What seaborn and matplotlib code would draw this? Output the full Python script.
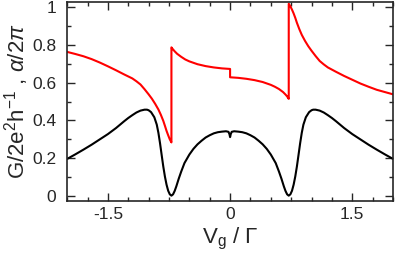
import matplotlib
matplotlib.use('Agg')
import matplotlib.pyplot as plt
from matplotlib.ticker import MultipleLocator, FuncFormatter
import seaborn as sns

# gate voltage samples and conductance G (black)
vg_cond = [-2.0, -1.9, -1.8, -1.7, -1.6, -1.5, -1.4, -1.3, -1.25, -1.2, -1.15,
           -1.1, -1.05, -1.02, -1.0, -0.97, -0.93, -0.9, -0.88, -0.86, -0.84,
           -0.82, -0.8, -0.78, -0.76, -0.74, -0.72, -0.7, -0.68, -0.66, -0.63,
           -0.6, -0.56, -0.5, -0.45, -0.4, -0.35, -0.3, -0.25, -0.2, -0.15,
           -0.1, -0.05, -0.02, -0.008,
           0.0,
           0.008, 0.02, 0.05, 0.1, 0.15, 0.2, 0.25, 0.3, 0.35, 0.4, 0.45, 0.5,
           0.56, 0.6, 0.63, 0.66, 0.68, 0.7, 0.72, 0.74, 0.76, 0.78, 0.8, 0.82,
           0.84, 0.86, 0.88, 0.9, 0.93, 0.97, 1.0, 1.02, 1.05, 1.1, 1.15, 1.2,
           1.25, 1.3, 1.4, 1.5, 1.6, 1.7, 1.8, 1.9, 2.0]
conductance = [0.197, 0.221, 0.246, 0.272, 0.300, 0.328, 0.360, 0.396, 0.413,
               0.428, 0.442, 0.452, 0.457, 0.457, 0.454, 0.444, 0.417, 0.378,
               0.335, 0.280, 0.218, 0.157, 0.104, 0.061, 0.029, 0.010, 0.003,
               0.010, 0.028, 0.052, 0.093, 0.130, 0.175, 0.220, 0.250, 0.274,
               0.293, 0.310, 0.322, 0.332, 0.338, 0.341, 0.343, 0.340, 0.328,
               0.312,
               0.328, 0.340, 0.343, 0.341, 0.338, 0.332, 0.322, 0.310, 0.293,
               0.274, 0.250, 0.220, 0.175, 0.130, 0.093, 0.052, 0.028, 0.010,
               0.003, 0.010, 0.029, 0.061, 0.104, 0.157, 0.218, 0.280, 0.335,
               0.378, 0.417, 0.444, 0.454, 0.457, 0.457, 0.452, 0.442, 0.428,
               0.413, 0.396, 0.360, 0.328, 0.300, 0.272, 0.246, 0.221, 0.197]

# transmission phase alpha/2pi (red), repeated x at the jumps
vg_phase = [-2.0, -1.9, -1.8, -1.7, -1.6, -1.5, -1.4, -1.3, -1.2, -1.15, -1.1,
            -1.05, -1.0, -0.96, -0.92, -0.88, -0.85, -0.82, -0.8, -0.78, -0.76,
            -0.74, -0.72,
            -0.72, -0.71, -0.68, -0.65, -0.6, -0.55, -0.5, -0.4, -0.3, -0.2,
            -0.1, 0.0,
            0.0, 0.1, 0.2, 0.3, 0.4, 0.5, 0.55, 0.6, 0.65, 0.68, 0.7, 0.72,
            0.72, 0.74, 0.76, 0.78, 0.8, 0.82, 0.85, 0.88, 0.92, 0.96, 1.0,
            1.05, 1.1, 1.15, 1.2, 1.3, 1.4, 1.5, 1.6, 1.7, 1.8, 1.9, 2.0]
phase = [0.762, 0.751, 0.739, 0.724, 0.706, 0.686, 0.665, 0.643, 0.622, 0.607,
         0.590, 0.565, 0.538, 0.515, 0.488, 0.458, 0.430, 0.398, 0.372, 0.345,
         0.322, 0.300, 0.284,
         0.786, 0.780, 0.765, 0.752, 0.736, 0.722, 0.712, 0.697, 0.687, 0.680,
         0.675, 0.672,
         0.628, 0.625, 0.620, 0.613, 0.603, 0.588, 0.578, 0.566, 0.550, 0.537,
         0.527, 0.514,
         1.016, 1.003, 0.985, 0.965, 0.942, 0.916, 0.882, 0.852, 0.820, 0.792,
         0.768, 0.740, 0.714, 0.696, 0.680, 0.657, 0.635, 0.615, 0.595, 0.578,
         0.562, 0.550, 0.538]

sns.set_style('ticks')
plt.rcParams['font.family'] = ['Liberation Sans', 'DejaVu Sans']
plt.rcParams['mathtext.fontset'] = 'custom'
plt.rcParams['mathtext.rm'] = 'Liberation Sans'
plt.rcParams['mathtext.it'] = 'Liberation Sans:italic'
plt.rcParams['axes.unicode_minus'] = False

fig = plt.figure(figsize=(3.95, 2.62), dpi=100)
ax = fig.add_axes([0.170, 0.233, 0.825, 0.759])

sns.lineplot(x=vg_phase, y=phase, color='#ff0000', lw=1.5,
             estimator=None, sort=False, ax=ax)
sns.lineplot(x=vg_cond, y=conductance, color='black', lw=1.5,
             estimator=None, sort=False, ax=ax)

ax.set_xlim(-2, 2)
ax.set_ylim(-0.025, 1.025)
ax.xaxis.set_major_locator(MultipleLocator(1.5))
ax.xaxis.set_minor_locator(MultipleLocator(0.25))
ax.yaxis.set_major_locator(MultipleLocator(0.2))
ax.yaxis.set_minor_locator(MultipleLocator(0.1))
fmt = FuncFormatter(lambda v, p: f'{v:g}')
ax.xaxis.set_major_formatter(fmt)
ax.yaxis.set_major_formatter(fmt)

ax.tick_params(which='both', direction='in', top=True, right=True,
               width=1, labelsize=12.5)
ax.tick_params(which='major', length=6)
ax.tick_params(which='minor', length=3)
ax.tick_params(axis='x', which='major', pad=4)
ax.tick_params(axis='y', which='major', pad=8)
for s in ax.spines.values():
    s.set_linewidth(1.2)

ax.set_xlabel(r'V$_{\rm g}$ / $\Gamma$', fontsize=16, labelpad=3)
ax.set_ylabel(r'G/2e$^2$h$^{-1}$ , $\alpha$/2$\pi$', fontsize=16, labelpad=1)

fig.savefig('out.png', dpi=100)
